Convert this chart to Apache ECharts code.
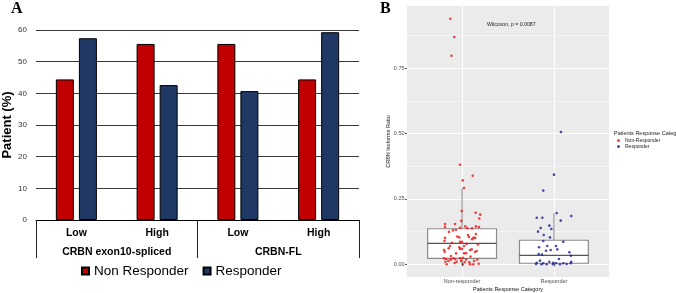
<!DOCTYPE html>
<html><head><meta charset="utf-8">
<script src="https://cdn.jsdelivr.net/npm/echarts@6/dist/echarts.min.js"></script>
<style>html,body{margin:0;padding:0;background:#fff}#c{width:676px;height:293px}</style>
</head><body><div id="c"></div>
<script>
// ---------- Panel A data ----------
const levelsA = ['Low', 'High', 'Low', 'High'];
const genesA = ['CRBN exon10-spliced', 'CRBN-FL'];
const nonResponderPct = [44.4, 55.6, 55.6, 44.4];
const responderPct = [57.4, 42.6, 40.7, 59.3];

// ---------- Panel B data ----------
const groupsB = ['Non-responder', 'Responder'];
const ratioTicks = [0, 0.25, 0.5, 0.75];
// [min, Q1, median, Q3, max(whisker)]
const boxNonResp = [0.000, 0.023, 0.080, 0.136, 0.291];
const boxResp = [0.000, 0.004, 0.034, 0.092, 0.195];
// jittered points (x = jittered group position, y = ratio)
const nrX = [0.977,1.007,1.116,1.021,0.996,1.148,1.198,1.187,0.991,0.814,0.923,0.814,1.035,0.977,0.901,0.934,1.057,1.108,1.151,1.184,
  0.814,0.948,0.970,1.075,1.122,1.141,0.977,0.999,1.108,0.803,0.854,0.811,0.977,0.999,1.086,1.159,0.934,1.021,0.803,0.825,
  0.876,0.904,0.926,0.977,1.007,0.850,0.817,0.941,0.991,1.028,1.079,1.130,1.166,0.832,0.919,1.007,1.086,1.122,1.181,1.064,
  1.021,0.970,0.868,1.043,1.105,1.141,0.890,1.048,1.173,0.857,1.151,1.043,0.879,1.092,0.808,
  0.872,0.915,0.885];
const nrY = [0.381,0.321,0.339,0.292,0.204,0.197,0.190,0.175,0.166,0.154,0.154,0.143,0.145,0.140,0.130,0.132,0.138,0.138,0.145,0.143,
  0.101,0.106,0.103,0.104,0.101,0.101,0.086,0.086,0.096,0.055,0.061,0.048,0.059,0.059,0.055,0.051,0.042,0.042,0.023,0.020,
  0.018,0.023,0.020,0.023,0.025,0.013,0.010,0.010,0.013,0.008,0.008,0.013,0.018,0.000,0.005,0.000,0.000,0.000,0.002,0.112,
  0.070,0.065,0.070,0.042,0.057,0.047,0.082,0.078,0.076,0.124,0.116,0.018,0.032,0.030,0.089,
  0.940,0.870,0.798];
const rX = [2.077,2.001,1.884,1.813,1.874,2.030,2.189,2.074,1.950,1.856,1.972,1.827,1.889,1.957,2.102,1.884,1.838,1.928,2.023,1.965,
  1.914,2.037,1.834,1.870,2.168,2.186,1.849,1.813,1.884,1.921,1.950,1.993,2.023,2.066,2.102,2.139,2.183,2.189,1.863,1.805,1.990,2.055];
const rY = [0.506,0.343,0.282,0.178,0.178,0.196,0.185,0.167,0.148,0.139,0.135,0.125,0.112,0.103,0.086,0.089,0.065,0.070,0.070,0.055,
  0.052,0.057,0.039,0.037,0.046,0.033,0.014,0.006,0.004,0.000,0.010,0.006,0.004,0.000,0.004,0.001,0.004,0.010,0.000,0.001,0.000,0.020];
const wilcoxText = 'Wilcoxon, p = 0.0087';

const FONT = 'Liberation Sans, Arial, sans-serif';
const nrPts = nrX.map((x, i) => [x, nrY[i]]);
const rPts = rX.map((x, i) => [x, rY[i]]);
const boxData = [[1].concat(boxNonResp), [2].concat(boxResp)];

// panel B geometry (ggplot-like expansion: x 0.4..2.6 on panel; data grid widened so axis min is a tick multiple)
const panelL = 407, panelT = 6, panelW = 202, panelH = 271;
const pxPerX = panelW / 2.2;
const y0px = 264.3, pxPerY = 261.3;

const chart = echarts.init(document.getElementById('c'), null, {renderer: 'canvas'});
chart.setOption({
  animation: false,
  textStyle: {fontFamily: FONT},
  title: [
    {text: 'A', left: 11, top: 1, padding: 0, textStyle: {fontFamily: 'Liberation Serif, Times New Roman, serif', fontWeight: 'bold', fontSize: 16, color: '#000'}},
    {text: 'B', left: 380, top: 1, padding: 0, textStyle: {fontFamily: 'Liberation Serif, Times New Roman, serif', fontWeight: 'bold', fontSize: 16, color: '#000'}},
    {text: wilcoxText, left: 487, top: 22, padding: 0, textStyle: {fontSize: 5.2, fontWeight: 'normal', color: '#222'}},
    {text: 'Patients Response Category', left: 614, top: 130, padding: 0, textStyle: {fontSize: 5.5, fontWeight: 'normal', color: '#222'}}
  ],
  legend: [
    {data: ['Non Responder', 'Responder'], left: 81, top: 264, padding: 0, icon: 'rect', itemWidth: 7, itemHeight: 7, itemGap: 14,
     textStyle: {fontSize: 13.5, color: '#000'}},
    {data: ['Non-Responder', 'Responder '], orient: 'vertical', left: 617, top: 138, padding: 0, icon: 'circle', itemWidth: 3, itemHeight: 3, itemGap: 1,
     textStyle: {fontSize: 5, color: '#222'}}
  ],
  grid: [
    {left: 36, top: 30, width: 323, height: 190, outerBoundsMode: 'none'},
    {left: panelL, top: panelT, width: panelW, height: panelH, show: true, backgroundColor: '#EBEBEB', borderWidth: 0, outerBoundsMode: 'none'},
    {left: panelL - 0.4 * pxPerX, top: y0px - pxPerY, width: 3 * pxPerX, height: 1.25 * pxPerY, outerBoundsMode: 'none'}
  ],
  xAxis: [
    {gridIndex: 0, type: 'category', position: 'bottom', data: levelsA, axisLine: {lineStyle: {color: '#000', width: 1}}, axisTick: {show: false},
     axisLabel: {fontWeight: 'bold', fontSize: 10.5, color: '#000', margin: 8}},
    {gridIndex: 0, type: 'category', position: 'bottom', data: genesA, axisLine: {show: false},
     axisTick: {show: true, length: 38, lineStyle: {color: '#222', width: 1}}, axisLabel: {fontWeight: 'bold', fontSize: 10.5, color: '#000', margin: 27}},
    // panel B: frame axis (title only)
    {gridIndex: 1, type: 'value', position: 'bottom', min: 0, max: 1, axisLine: {show: false}, axisTick: {show: false}, axisLabel: {show: false}, splitLine: {show: false},
     name: 'Patients Response Category', nameLocation: 'middle', nameGap: 9, nameTextStyle: {fontSize: 5.5, color: '#111'}},
    // panel B: grid lines axis
    {gridIndex: 2, type: 'value', position: 'bottom', min: 0, max: 3, interval: 1, z: 0, axisLine: {show: false}, axisTick: {show: false}, axisLabel: {show: false},
     splitLine: {show: true, lineStyle: {color: '#ffffff', width: 1}}},
    // panel B: labels axis
    {gridIndex: 2, type: 'value', position: 'bottom', min: 0, max: 3, interval: 1, z: 5, offset: -(0.25 * pxPerY - (panelT + panelH - y0px)), axisLine: {show: false},
     axisTick: {show: true, length: 2, customValues: [1, 2], lineStyle: {color: '#333', width: 0.8}},
     axisLabel: {customValues: [1, 2], margin: 1.5, fontSize: 5.5, color: '#4d4d4d', formatter: v => (v === 1 || v === 2) ? groupsB[v - 1] : ''},
     splitLine: {show: false}}
  ],
  yAxis: [
    {gridIndex: 0, type: 'value', position: 'left', min: 0, max: 60, interval: 10, axisLine: {show: false}, axisTick: {show: false},
     axisLabel: {fontSize: 8, color: '#333', margin: 9}, splitLine: {lineStyle: {color: '#3a3a3a', width: 1}},
     name: 'Patient (%)', nameLocation: 'middle', nameGap: 22, nameTextStyle: {fontWeight: 'bold', fontSize: 13, color: '#000'}},
    {gridIndex: 1, type: 'value', position: 'left', min: 0, max: 1, axisLine: {show: false}, axisTick: {show: false}, axisLabel: {show: false}, splitLine: {show: false},
     name: 'CRBN Isoforms Ratio', nameLocation: 'middle', nameGap: 16, nameTextStyle: {fontSize: 5.5, color: '#111'}},
    {gridIndex: 2, type: 'value', position: 'left', min: -0.25, max: 1, interval: 0.25, z: 0, axisLine: {show: false}, axisTick: {show: false}, axisLabel: {show: false},
     splitLine: {show: true, lineStyle: {color: '#ffffff', width: 1}},
     minorTick: {show: false, splitNumber: 2}, minorSplitLine: {show: true, lineStyle: {color: '#ffffff', width: 0.5}}},
    {gridIndex: 2, type: 'value', position: 'left', min: -0.25, max: 1, interval: 0.25, z: 5, offset: -0.4 * pxPerX, axisLine: {show: false},
     axisTick: {show: true, length: 2, customValues: ratioTicks, lineStyle: {color: '#333', width: 0.8}},
     axisLabel: {customValues: ratioTicks, margin: 2.5, fontSize: 5.5, color: '#4d4d4d', formatter: v => (v >= 0 && v <= 0.8) ? v.toFixed(2) : ''},
     splitLine: {show: false}}
  ],
  series: [
    {name: 'Non Responder', type: 'bar', xAxisIndex: 0, yAxisIndex: 0, data: nonResponderPct, barWidth: 18, barGap: '28%',
     itemStyle: {color: '#C00000', borderColor: '#000', borderWidth: 1}},
    {name: 'Responder', type: 'bar', xAxisIndex: 0, yAxisIndex: 0, data: responderPct, barWidth: 18, barGap: '28%',
     itemStyle: {color: '#1F3864', borderColor: '#000', borderWidth: 1}},
    {type: 'custom', xAxisIndex: 3, yAxisIndex: 2, z: 3, data: boxData, encode: {x: 0, y: [1, 2, 3, 4, 5]},
     renderItem: function (params, api) {
       const x = api.value(0), lo = api.value(1), q1 = api.value(2), md = api.value(3), q3 = api.value(4), hi = api.value(5);
       const hw = 0.375;
       const tl = api.coord([x - hw, q3]), br = api.coord([x + hw, q1]);
       const m1 = api.coord([x - hw, md]), m2 = api.coord([x + hw, md]);
       const wHi = api.coord([x, hi]), wQ3 = api.coord([x, q3]), wLo = api.coord([x, lo]), wQ1 = api.coord([x, q1]);
       return {type: 'group', children: [
         {type: 'line', shape: {x1: wQ3[0], y1: wQ3[1], x2: wHi[0], y2: wHi[1]}, style: {stroke: '#a6a6a6', lineWidth: 1.4}},
         {type: 'line', shape: {x1: wQ1[0], y1: wQ1[1], x2: wLo[0], y2: wLo[1]}, style: {stroke: '#a6a6a6', lineWidth: 1.4}},
         {type: 'rect', shape: {x: tl[0], y: tl[1], width: br[0] - tl[0], height: br[1] - tl[1]}, style: {fill: '#ffffff', stroke: '#8a8a8a', lineWidth: 1.2}},
         {type: 'line', shape: {x1: m1[0], y1: m1[1], x2: m2[0], y2: m2[1]}, style: {stroke: '#555555', lineWidth: 1.3}}
       ]};
     }},
    {name: 'Non-Responder', type: 'scatter', xAxisIndex: 3, yAxisIndex: 2, z: 4, data: nrPts, symbol: 'circle', symbolSize: 2.6,
     itemStyle: {color: '#ee1111'}},
    {name: 'Responder ', type: 'scatter', xAxisIndex: 3, yAxisIndex: 2, z: 4, data: rPts, symbol: 'circle', symbolSize: 2.6,
     itemStyle: {color: '#1d1d96'}}
  ]
});
</script>
</body></html>
